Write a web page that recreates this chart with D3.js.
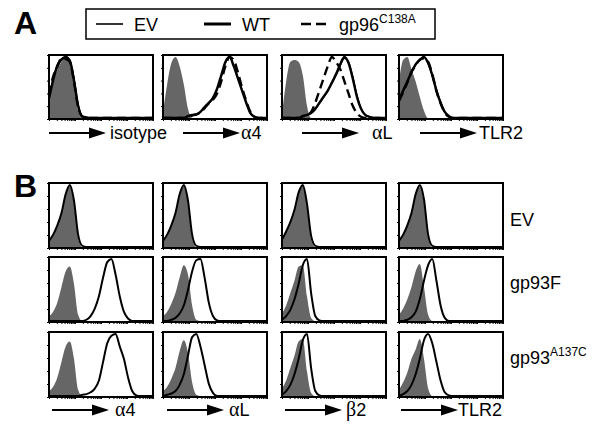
<!DOCTYPE html>
<html>
<head>
<meta charset="utf-8">
<script src="https://cdn.jsdelivr.net/npm/d3@7"></script>
<style>
  body { margin:0; background:#fff; }
  svg text { font-family: "Liberation Sans", Arial, sans-serif; fill:#000; }
  .greek { font-family: "Liberation Serif", "Times New Roman", serif; }
</style>
</head>
<body>
<svg id="fig" width="600" height="431"></svg>
<script>
// fluorescence channel bins (26 bins across the log axis), counts as % of max
var markersA = ["isotype", "α4", "αL", "TLR2"];
var markersB = ["α4", "αL", "β2", "TLR2"];
var rowsB = ["EV", "gp93F", "gp93A137C"];

// panel A : gray = control fill, EV / WT / gp96C138A lines
var aGray = [
  [30,60,80,92,100,90,55,12,0,0,0,0,0,0,0,0,0,0,0,0,0,0,0,0,0,0],
  [10,55,90,100,85,55,15,0,0,0,0,0,0,0,0,0,0,0,0,0,0,0,0,0,0,0],
  [5,60,92,95,92,70,20,0,0,0,0,0,0,0,0,0,0,0,0,0,0,0,0,0,0,0],
  [60,95,100,80,60,35,12,0,0,0,0,0,0,0,0,0,0,0,0,0,0,0,0,0,0,0]
];
var aEV = [
  [35,65,85,95,100,95,65,22,3,1,0,0,0,0,0,0,0,0,0,0,0,0,0,0,0,0],
  [0,0,0,0,0,0,3,4,6,10,17,24,32,47,68,90,100,86,66,46,26,9,2,0,0,0],
  [0,0,0,0,0,3,5,8,14,24,34,44,57,70,86,98,92,68,38,16,5,2,0,0,0,0],
  [30,44,60,74,87,95,100,90,70,46,26,10,3,0,0,0,0,0,0,0,0,0,0,0,0,0]
];
var aWT = [
  [32,62,86,96,100,94,62,20,3,1,0,0,0,0,0,0,0,0,0,0,0,0,0,0,0,0],
  [0,0,0,0,0,0,3,5,6,10,18,25,33,48,70,92,100,85,65,45,25,8,2,0,0,0],
  [0,0,0,0,0,3,5,8,15,25,35,45,58,72,88,100,90,65,35,15,5,2,0,0,0,0],
  [30,45,60,75,88,95,100,90,70,45,25,10,3,0,0,0,0,0,0,0,0,0,0,0,0,0]
];
var aMut = [
  [38,68,84,98,97,92,60,18,2,0,0,0,0,0,0,0,0,0,0,0,0,0,0,0,0,0],
  [0,0,0,0,0,0,2,4,6,9,16,24,30,40,60,85,100,95,75,50,28,10,2,0,0,0],
  [0,0,0,0,0,3,5,10,25,45,65,85,100,92,80,60,40,20,8,2,0,0,0,0,0,0],
  [28,42,58,76,86,96,98,92,72,44,24,9,2,0,0,0,0,0,0,0,0,0,0,0,0,0]
];

// panel B : gray fill and black line per row (EV, gp93F, gp93A137C) and column
var bGray = [
  [
    [10,20,35,55,85,100,70,15,0,0,0,0,0,0,0,0,0,0,0,0,0,0,0,0,0,0],
    [10,20,35,55,85,100,70,15,0,0,0,0,0,0,0,0,0,0,0,0,0,0,0,0,0,0],
    [12,25,40,60,88,100,65,12,0,0,0,0,0,0,0,0,0,0,0,0,0,0,0,0,0,0],
    [10,20,35,55,85,100,72,15,0,0,0,0,0,0,0,0,0,0,0,0,0,0,0,0,0,0]
  ],
  [
    [8,15,30,55,80,88,60,10,0,0,0,0,0,0,0,0,0,0,0,0,0,0,0,0,0,0],
    [8,15,28,45,70,90,75,25,2,0,0,0,0,0,0,0,0,0,0,0,0,0,0,0,0,0],
    [12,25,45,65,88,90,40,5,0,0,0,0,0,0,0,0,0,0,0,0,0,0,0,0,0,0],
    [10,20,35,55,80,92,55,10,0,0,0,0,0,0,0,0,0,0,0,0,0,0,0,0,0,0]
  ],
  [
    [8,15,30,55,80,88,60,10,0,0,0,0,0,0,0,0,0,0,0,0,0,0,0,0,0,0],
    [8,15,28,45,72,90,70,22,2,0,0,0,0,0,0,0,0,0,0,0,0,0,0,0,0,0],
    [12,25,45,65,88,92,40,5,0,0,0,0,0,0,0,0,0,0,0,0,0,0,0,0,0,0],
    [10,22,38,60,75,92,60,12,0,0,0,0,0,0,0,0,0,0,0,0,0,0,0,0,0,0]
  ]
];
var bLine = [
  [
    [10,20,35,55,85,100,75,20,2,0,0,0,0,0,0,0,0,0,0,0,0,0,0,0,0,0],
    [10,20,35,55,85,100,75,20,2,0,0,0,0,0,0,0,0,0,0,0,0,0,0,0,0,0],
    [12,25,40,60,88,100,70,18,2,0,0,0,0,0,0,0,0,0,0,0,0,0,0,0,0,0],
    [10,20,35,55,85,100,77,20,2,0,0,0,0,0,0,0,0,0,0,0,0,0,0,0,0,0]
  ],
  [
    [0,0,0,0,0,0,0,0,0,2,8,20,40,70,95,100,75,40,15,4,0,0,0,0,0,0],
    [0,0,2,5,12,25,50,80,98,100,70,30,8,1,0,0,0,0,0,0,0,0,0,0,0,0],
    [2,8,18,35,60,90,100,45,8,1,0,0,0,0,0,0,0,0,0,0,0,0,0,0,0,0],
    [0,0,2,6,15,35,65,90,100,65,25,5,0,0,0,0,0,0,0,0,0,0,0,0,0,0]
  ],
  [
    [0,0,0,0,0,0,0,0,2,3,6,12,25,55,85,97,100,80,60,30,8,1,0,0,0,0],
    [0,2,4,8,18,35,65,95,100,80,50,20,5,0,0,0,0,0,0,0,0,0,0,0,0,0],
    [2,8,18,35,60,90,100,45,8,1,0,0,0,0,0,0,0,0,0,0,0,0,0,0,0,0],
    [0,3,8,18,35,60,90,100,85,55,25,6,1,0,0,0,0,0,0,0,0,0,0,0,0,0]
  ]
];

var colX = [49, 163, 282, 399];
var panelW = 104;
var rowAY = 55, rowAH = 64;
var rowBY = [183, 257, 332], rowBH = 65;
var grayFill = "#666";

var svg = d3.select("#fig");

var x = d3.scaleLinear().domain([0, 25]).range([0, panelW]);
var xLog = d3.scaleLog().domain([1, 10000]).range([0, panelW]);

function drawPanel(px, py, h, fill, lines) {
  var g = svg.append("g").attr("transform", "translate(" + px + "," + py + ")");
  var y = d3.scaleLinear().domain([0, 100]).range([h - 1, 2]);
  var yTick = d3.scaleLinear().domain([0, 5]).range([h, 0]);

  g.append("path")
    .datum(fill)
    .attr("fill", grayFill)
    .attr("d", d3.area().x(function(d, i) { return x(i); }).y0(h).y1(function(d) { return y(d); }).curve(d3.curveMonotoneX));

  lines.forEach(function(l) {
    g.append("path")
      .datum(l.values)
      .attr("fill", "none")
      .attr("stroke", "#000")
      .attr("stroke-width", l.w)
      .attr("stroke-dasharray", l.dash || null)
      .attr("d", d3.line().x(function(d, i) { return x(i); }).y(function(d) { return y(d); }).curve(d3.curveMonotoneX));
  });

  // ticks
  var bx = g.append("g").attr("transform", "translate(0," + h + ")")
    .call(d3.axisBottom(xLog).tickSize(2).tickFormat(""));
  bx.select(".domain").remove();
  var ly = g.append("g").call(d3.axisLeft(yTick).ticks(5).tickSize(2).tickFormat(""));
  ly.select(".domain").remove();

  g.append("rect")
    .attr("width", panelW).attr("height", h)
    .attr("fill", "none").attr("stroke", "#000").attr("stroke-width", 2);
}

function drawArrow(x0, y0, label, gap) {
  var g = svg.append("g");
  g.append("line").attr("x1", x0).attr("x2", x0 + 42).attr("y1", y0).attr("y2", y0)
    .attr("stroke", "#000").attr("stroke-width", 2);
  g.append("path")
    .attr("d", "M" + (x0 + 40) + "," + (y0 - 5.5) + "L" + (x0 + 57) + "," + y0 + "L" + (x0 + 40) + "," + (y0 + 5.5) + "Z")
    .attr("fill", "#000");
  var t = g.append("text").attr("x", x0 + 57 + gap).attr("y", y0 + 6).attr("font-size", 18);
  var m = label.match(/^([αβ])(.*)$/);
  if (m) {
    t.append("tspan").attr("class", "greek").attr("font-size", 20).text(m[1]);
    t.append("tspan").text(m[2]);
  } else {
    t.text(label);
  }
}

// panel letters
svg.append("text").attr("x", 14).attr("y", 34).attr("font-size", 32).attr("font-weight", "bold").text("A");
svg.append("text").attr("x", 14).attr("y", 197).attr("font-size", 32).attr("font-weight", "bold").text("B");

// legend
var leg = svg.append("g");
leg.append("rect").attr("x", 86).attr("y", 9).attr("width", 349).attr("height", 30)
  .attr("fill", "none").attr("stroke", "#000").attr("stroke-width", 1.5);
var legItems = [
  { x: 96, w: 1.6, dash: null, label: "EV", sup: "" },
  { x: 204, w: 3, dash: null, label: "WT", sup: "" },
  { x: 301, w: 2.5, dash: "10,5", label: "gp96", sup: "C138A" }
];
legItems.forEach(function(d) {
  leg.append("line").attr("x1", d.x).attr("x2", d.x + 27).attr("y1", 24).attr("y2", 24)
    .attr("stroke", "#000").attr("stroke-width", d.w).attr("stroke-dasharray", d.dash);
  var t = leg.append("text").attr("x", d.x + 38).attr("y", 31).attr("font-size", 18).text(d.label);
  if (d.sup) t.append("tspan").attr("font-size", 12).attr("dy", -8).text(d.sup);
});

// row A
var arrowAX = [49, 183, 302, 420];
var gapA = [4, 1, 13, 2];
markersA.forEach(function(m, c) {
  drawPanel(colX[c], rowAY, rowAH, aGray[c], [
    { values: aEV[c], w: 1.4 },
    { values: aMut[c], w: 2.4, dash: "9,5" },
    { values: aWT[c], w: 2.4 }
  ]);
  drawArrow(arrowAX[c], 133, m, gapA[c]);
});

// row B
var arrowBX = [52, 167, 285, 401];
var gapB = [6, 5, 4, 0];
rowsB.forEach(function(r, ri) {
  markersB.forEach(function(m, c) {
    drawPanel(colX[c], rowBY[ri], rowBH, bGray[ri][c], [{ values: bLine[ri][c], w: 2 }]);
  });
});
markersB.forEach(function(m, c) { drawArrow(arrowBX[c], 410, m, gapB[c]); });

var rowLab = [
  { y: 226, label: "EV", sup: "" },
  { y: 289, label: "gp93F", sup: "" },
  { y: 364, label: "gp93", sup: "A137C" }
];
rowLab.forEach(function(d) {
  var t = svg.append("text").attr("x", 510).attr("y", d.y).attr("font-size", 18).text(d.label);
  if (d.sup) t.append("tspan").attr("font-size", 12).attr("dy", -8).text(d.sup);
});
</script>
</body>
</html>
